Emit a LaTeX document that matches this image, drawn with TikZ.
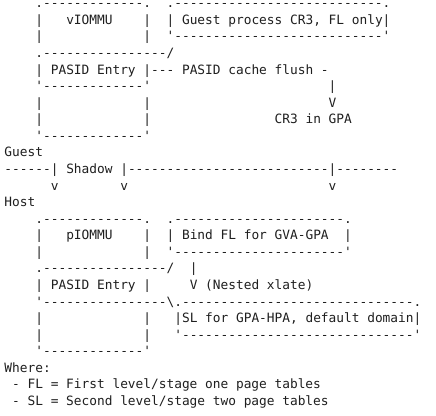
\documentclass[tikz,border=0pt]{standalone}
\usepackage{fontspec}
\setmonofont{DejaVu Sans Mono}
\tikzset{
  asc/.style={anchor=base west, inner sep=0pt, outer sep=0pt, text=black!88,
    font=\ttfamily\fontsize{12.82pt}{16.6pt}\selectfont\frenchspacing},
  toprow/.style={text height=5pt}
}
% #1 extra style, #2 name, #3 line number, #4 column, #5 text
\newcommand\ascseg[5][]{\node[asc,#1] (#2) at ({4.5+#4*7.72},{-(7.8+(#3-1)*16.57)}) {#5};}
\begin{document}
\begin{tikzpicture}[x=1pt,y=1pt]
\fill[white] (0,0) rectangle (436,-415);
\useasboundingbox (0,0) rectangle (436,-415);
% guest side
\ascseg[toprow]{a1}{1}{4}{.-------------.}
\ascseg[toprow]{a2}{1}{21}{.---------------------------.}
\ascseg{b1}{2}{4}{|}
\ascseg{b2}{2}{8}{vIOMMU}
\ascseg{b3}{2}{18}{|}
\ascseg{b4}{2}{21}{|}
\ascseg{b5}{2}{23}{Guest process CR3, FL only|}
\ascseg{c1}{3}{4}{|}
\ascseg{c2}{3}{18}{|}
\ascseg{c3}{3}{21}{'---------------------------'}
\ascseg{d1}{4}{4}{.----------------/}
\ascseg{e1}{5}{4}{|}
\ascseg{e2}{5}{6}{PASID Entry}
\ascseg{e3}{5}{18}{|--- PASID cache flush -}
\ascseg{f1}{6}{4}{'-------------'}
\ascseg{f2}{6}{42}{|}
\ascseg{g1}{7}{4}{|}
\ascseg{g2}{7}{18}{|}
\ascseg{g3}{7}{42}{V}
\ascseg{h1}{8}{4}{|}
\ascseg{h2}{8}{18}{|}
\ascseg{h3}{8}{35}{CR3 in GPA}
\ascseg{i1}{9}{4}{'-------------'}
% boundary
\ascseg{j1}{10}{0}{Guest}
\ascseg{k1}{11}{0}{------|}
\ascseg{k2}{11}{8}{Shadow}
\ascseg{k3}{11}{15}{|--------------------------|--------}
\ascseg{l1}{12}{6}{v}
\ascseg{l2}{12}{15}{v}
\ascseg{l3}{12}{42}{v}
\ascseg{m1}{13}{0}{Host}
% host side
\ascseg{n1}{14}{4}{.-------------.}
\ascseg{n2}{14}{21}{.----------------------.}
\ascseg{o1}{15}{4}{|}
\ascseg{o2}{15}{8}{pIOMMU}
\ascseg{o3}{15}{18}{|}
\ascseg{o4}{15}{21}{|}
\ascseg{o5}{15}{23}{Bind FL for GVA-GPA}
\ascseg{o6}{15}{44}{|}
\ascseg{p1}{16}{4}{|}
\ascseg{p2}{16}{18}{|}
\ascseg{p3}{16}{21}{'----------------------'}
\ascseg{q1}{17}{4}{.----------------/}
\ascseg{q2}{17}{24}{|}
\ascseg{r1}{18}{4}{|}
\ascseg{r2}{18}{6}{PASID Entry}
\ascseg{r3}{18}{18}{|}
\ascseg{r4}{18}{24}{V (Nested xlate)}
\ascseg{s1}{19}{4}{'----------------\textbackslash.------------------------------.}
\ascseg{t1}{20}{4}{|}
\ascseg{t2}{20}{18}{|}
\ascseg{t3}{20}{22}{|SL for GPA-HPA, default domain|}
\ascseg{u1}{21}{4}{|}
\ascseg{u2}{21}{18}{|}
\ascseg{u3}{21}{22}{'------------------------------'}
\ascseg{v1}{22}{4}{'-------------'}
% legend
\ascseg{w1}{23}{0}{Where:}
\ascseg{x1}{24}{1}{- FL = First level/stage one page tables}
\ascseg{y1}{25}{1}{- SL = Second level/stage two page tables}
\end{tikzpicture}
\end{document}
